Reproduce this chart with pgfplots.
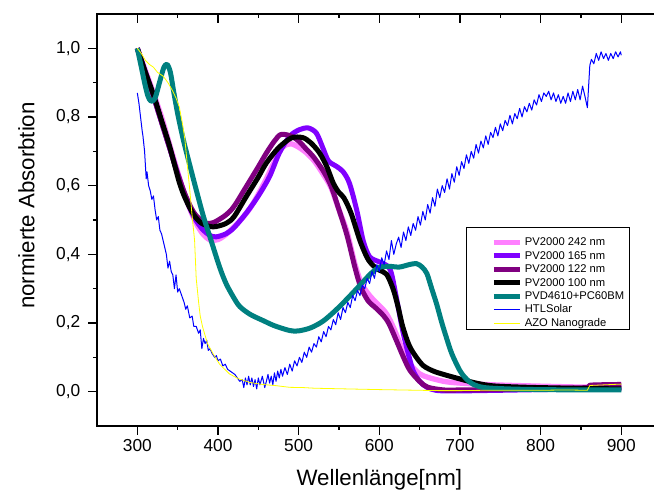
\documentclass[border=0pt]{standalone}
\usepackage{fontspec}
\setmainfont{Liberation Sans}
\usepackage{pgfplots}
\pgfplotsset{compat=1.18}

\definecolor{pinkc}{RGB}{255,128,255}
\definecolor{violc}{RGB}{128,0,255}
\definecolor{purpc}{RGB}{128,0,128}
\definecolor{tealc}{RGB}{0,128,128}
\definecolor{bluec}{RGB}{0,0,255}
\definecolor{yellc}{RGB}{255,255,0}

\pgfplotsset{
  specframe/.style={
    at={(0,0)},anchor=south west,scale only axis,
    width=423.45pt,height=309pt,
    xmin=250,xmax=950,ymin=-0.1,ymax=1.1,
    axis line style={line width=1.1pt},
    every tick/.style={black,line width=1.1pt},
    major tick length=6.5pt,minor tick length=3pt,
    xtick={300,400,500,600,700,800,900},minor x tick num=1,
  }
}

\begin{document}
\begin{tikzpicture}
\useasboundingbox (-72.75pt,-49.5pt) rectangle (417.75pt,319.5pt);

\begin{axis}[specframe,
  xtick pos=bottom,ytick pos=left,tick align=outside,
  ytick={0,0.2,0.4,0.6,0.8,1.0},minor y tick num=1,
  tick label style={font=\fontsize{13}{15}\selectfont},
  /pgf/number format/assume math mode=true,
  yticklabel style={xshift=-2.5pt,/pgf/number format/.cd,fixed,fixed zerofill,precision=1,use comma},
  xticklabel style={/pgf/number format/.cd,1000 sep={}},
  xlabel={Wellenlänge[nm]},ylabel={normierte Absorbtion},
  label style={font=\fontsize{16.7}{19}\selectfont},
  xlabel style={at={(axis description cs:0.5,-0.1456)},anchor=base},
  ylabel style={at={(axis description cs:-0.1250,0.535)},anchor=center},
  legend style={at={(axis cs:708.6,0.453)},anchor=north west,draw=none,fill=none,
    inner sep=0pt,font=\fontsize{8.4}{9}\selectfont,row sep=1.07pt,
    cells={anchor=west},
    nodes={inner sep=0pt,text height=7pt,text depth=2pt},
    /tikz/every odd column/.append style={column sep=2pt}},
  legend image code/.code={\path (0pt,0pt); \draw[#1] (18pt,0pt) -- (37.3pt,0pt);},
  every axis plot/.append style={line join=round}]

% PV2000 242 nm
\addplot[pinkc,line width=4pt,smooth] coordinates {
  (300,1.0)(310,0.935)(320,0.87)(330,0.80)(340,0.72)(350,0.64)(360,0.565)
  (370,0.505)(380,0.463)(390,0.442)(400,0.443)(410,0.458)(420,0.48)(430,0.505)
  (440,0.535)(450,0.575)(460,0.62)(470,0.67)(480,0.712)(490,0.722)(500,0.712)
  (510,0.695)(520,0.67)(530,0.635)(540,0.595)(550,0.53)(560,0.465)(570,0.37)
  (578,0.315)(588,0.28)(598,0.255)(608,0.23)(616,0.195)(624,0.15)(632,0.105)
  (640,0.075)(650,0.052)(660,0.042)(680,0.03)(700,0.025)(740,0.02)(800,0.016)
  (860,0.013)(900,0.013)};

% PV2000 165 nm
\addplot[violc,line width=3.75pt,smooth] coordinates {
  (300,1.0)(310,0.93)(320,0.86)(330,0.785)(340,0.71)(350,0.635)(360,0.565)
  (370,0.51)(380,0.475)(390,0.455)(398,0.451)(410,0.46)(420,0.478)(435,0.52)
  (450,0.57)(464,0.627)(476,0.695)(489,0.744)(501,0.763)(512,0.768)(522,0.753)
  (530,0.71)(537,0.672)(547,0.656)(555,0.641)(563,0.607)(572,0.529)(580,0.44)
  (588,0.393)(600,0.378)(610,0.366)(615,0.345)(621,0.276)(629,0.178)(636,0.11)
  (642,0.061)(650,0.03)(659,0.013)(670,0.004)(690,0.002)(750,0.004)(800,0.006)
  (860,0.008)(900,0.01)};

% PV2000 122 nm
\addplot[purpc,line width=3.75pt,smooth] coordinates {
  (300,1.0)(310,0.93)(320,0.86)(330,0.785)(340,0.71)(350,0.635)(360,0.57)
  (370,0.522)(380,0.497)(386,0.49)(395,0.493)(410,0.515)(420,0.54)(435,0.597)
  (450,0.655)(460,0.695)(470,0.73)(478,0.749)(490,0.745)(500,0.73)(510,0.705)
  (518,0.685)(530,0.645)(540,0.6)(550,0.53)(560,0.455)(570,0.36)(577,0.305)
  (586,0.265)(596,0.243)(605,0.222)(612,0.198)(621,0.15)(630,0.1)(638,0.062)
  (650,0.03)(660,0.013)(680,0.005)(700,0.005)(750,0.006)(800,0.009)(858,0.012)
  (862,0.019)(900,0.021)};

% PV2000 100 nm
\addplot[black,line width=3.75pt,smooth] coordinates {
  (300,1.0)(310,0.93)(320,0.865)(330,0.79)(340,0.715)(352,0.61)(360,0.56)
  (370,0.515)(380,0.49)(394,0.48)(410,0.49)(420,0.51)(435,0.568)(450,0.625)
  (460,0.666)(475,0.71)(491,0.739)(505,0.74)(515,0.725)(526,0.695)(535,0.655)
  (543,0.607)(550,0.58)(556,0.565)(565,0.52)(576,0.44)(585,0.39)(592,0.368)
  (600,0.354)(609,0.342)(617,0.3)(623,0.25)(629,0.19)(637,0.135)(646,0.10)
  (655,0.075)(667,0.06)(680,0.05)(700,0.037)(720,0.025)(741,0.017)(780,0.013)
  (840,0.01)(900,0.008)};

% PVD4610+PC60BM
\addplot[tealc,line width=3.75pt,smooth] coordinates {
  (300,1.0)(305,0.945)(309,0.90)(313,0.862)(317,0.846)(322,0.855)(328,0.905)
  (333,0.945)(337,0.953)(341,0.93)(345,0.875)(350,0.81)(357,0.734)(365,0.66)
  (373,0.588)(382,0.51)(390,0.451)(402,0.363)(410,0.315)(419,0.276)(427,0.248)
  (440,0.225)(456,0.207)(470,0.192)(489,0.178)(500,0.177)(515,0.186)(530,0.205)
  (545,0.235)(560,0.27)(576,0.31)(590,0.345)(600,0.362)(612,0.365)(625,0.363)
  (637,0.37)(646,0.373)(653,0.363)(659,0.344)(665,0.30)(671,0.256)(677,0.205)
  (683,0.159)(690,0.11)(700,0.061)(708,0.037)(716,0.022)(730,0.012)(760,0.008)
  (800,0.006)(860,0.005)(900,0.005)};

% HTLSolar
\addplot[bluec,line width=0.75pt] coordinates {
  (300,0.87)(302,0.84)(304,0.80)(306,0.76)(307,0.744)(309,0.70)(311,0.62)
  (312,0.64)(314,0.60)(316,0.585)(318,0.56)(320,0.57)(322,0.53)(324,0.50)
  (326,0.51)(328,0.47)(330,0.46)(332,0.44)(334,0.42)(336,0.40)(338,0.36)
  (340,0.38)(342,0.35)(344,0.34)(346,0.30)(348,0.34)(350,0.29)(352,0.30)
  (355,0.28)(358,0.26)(360,0.24)(362,0.25)(365,0.215)(368,0.22)(370,0.19)
  (373,0.19)(376,0.17)(378,0.18)(380,0.125)(382,0.155)(384,0.14)(386,0.15)
  (388,0.12)(390,0.125)(393,0.11)(396,0.10)(398,0.105)(400,0.09)(403,0.095)
  (406,0.075)(409,0.08)(412,0.065)(415,0.06)(418,0.055)(421,0.05)(424,0.04)
  (427,0.03)(430,0.035)(432,0.012)(434,0.04)(436,0.02)(438,0.045)(440,0.02)
  (442,0.04)(444,0.015)(446,0.035)(448,0.008)(450,0.04)(452,0.02)(455,0.045)
  (458,0.012)(460,0.03)(462,0.05)(464,0.025)(466,0.045)(468,0.02)(470,0.055)
  (472,0.03)(474,0.06)(476,0.04)(478,0.065)(480,0.045)(483,0.07)(486,0.05)
  (489,0.08)(492,0.06)(495,0.09)(498,0.075)(501,0.10)(504,0.085)(507,0.115)
  (510,0.10)(513,0.13)(516,0.115)(519,0.14)(522,0.13)(525,0.16)(528,0.145)
  (531,0.175)(534,0.16)(537,0.19)(540,0.18)(543,0.21)(546,0.195)(549,0.23)
  (552,0.21)(555,0.245)(558,0.23)(561,0.26)(564,0.245)(567,0.28)(570,0.265)
  (573,0.295)(576,0.28)(579,0.31)(582,0.30)(585,0.33)(588,0.315)(591,0.35)
  (594,0.33)(597,0.37)(600,0.35)(603,0.39)(606,0.37)(609,0.41)(612,0.385)
  (615,0.44)(618,0.40)(621,0.43)(624,0.45)(627,0.42)(630,0.465)(633,0.44)
  (636,0.48)(639,0.455)(642,0.49)(645,0.47)(648,0.51)(651,0.485)(654,0.525)
  (657,0.50)(660,0.545)(663,0.52)(666,0.565)(669,0.54)(672,0.59)(675,0.565)
  (678,0.60)(681,0.58)(684,0.62)(687,0.59)(690,0.635)(693,0.61)(696,0.655)
  (699,0.63)(702,0.67)(705,0.65)(708,0.69)(711,0.665)(714,0.70)(717,0.68)
  (720,0.72)(723,0.695)(726,0.73)(729,0.71)(732,0.745)(735,0.72)(738,0.755)
  (741,0.74)(744,0.77)(747,0.745)(750,0.78)(753,0.76)(756,0.79)(759,0.775)
  (762,0.805)(765,0.78)(768,0.81)(771,0.795)(774,0.825)(777,0.80)(780,0.83)
  (783,0.815)(786,0.84)(789,0.82)(792,0.85)(795,0.835)(798,0.865)(801,0.845)
  (804,0.87)(807,0.86)(810,0.875)(813,0.85)(816,0.87)(819,0.845)(822,0.865)
  (825,0.84)(828,0.86)(831,0.84)(834,0.87)(837,0.845)(840,0.875)(843,0.85)
  (846,0.88)(849,0.85)(852,0.89)(855,0.86)(858,0.827)(861,0.95)(863,0.968)
  (866,0.955)(869,0.985)(872,0.965)(875,0.99)(878,0.97)(881,0.985)(884,0.965)
  (887,0.985)(890,0.97)(893,0.99)(896,0.975)(899,0.99)(900,0.98)};

% AZO Nanograde
\addplot[yellc,line width=0.6pt] coordinates {
  (300,1.0)(305,0.985)(310,0.965)(315,0.953)(320,0.945)(325,0.93)(332,0.919)
  (338,0.90)(344,0.875)(348,0.855)(352,0.83)(356,0.78)(359,0.734)(362,0.66)
  (365,0.588)(368,0.51)(371,0.44)(373,0.33)(376,0.26)(378,0.22)(381,0.188)
  (387,0.14)(394,0.11)(402,0.08)(414,0.052)(425,0.038)(439,0.027)(455,0.021)
  (472,0.0175)(489,0.0126)(505,0.012)(520,0.01)(540,0.009)(560,0.008)(580,0.007)
  (600,0.006)(625,0.005)(650,0.004)(675,0.003)(700,0.003)(730,0.004)(760,0.004)
  (800,0.004)(830,0.005)(858,0.004)(861,0.018)(880,0.02)(900,0.022)};

\legend{PV2000 242 nm,PV2000 165 nm,PV2000 122 nm,PV2000 100 nm,
  PVD4610+PC60BM,HTLSolar,AZO Nanograde}

\draw[line width=0.75pt] (axis cs:708.6,0.477) rectangle (axis cs:909.9,0.180);
\end{axis}

% top ticks point inwards
\begin{axis}[specframe,xtick pos=top,tick align=inside,
  xticklabels={},ytick=\empty]
\end{axis}
\end{tikzpicture}
\end{document}
